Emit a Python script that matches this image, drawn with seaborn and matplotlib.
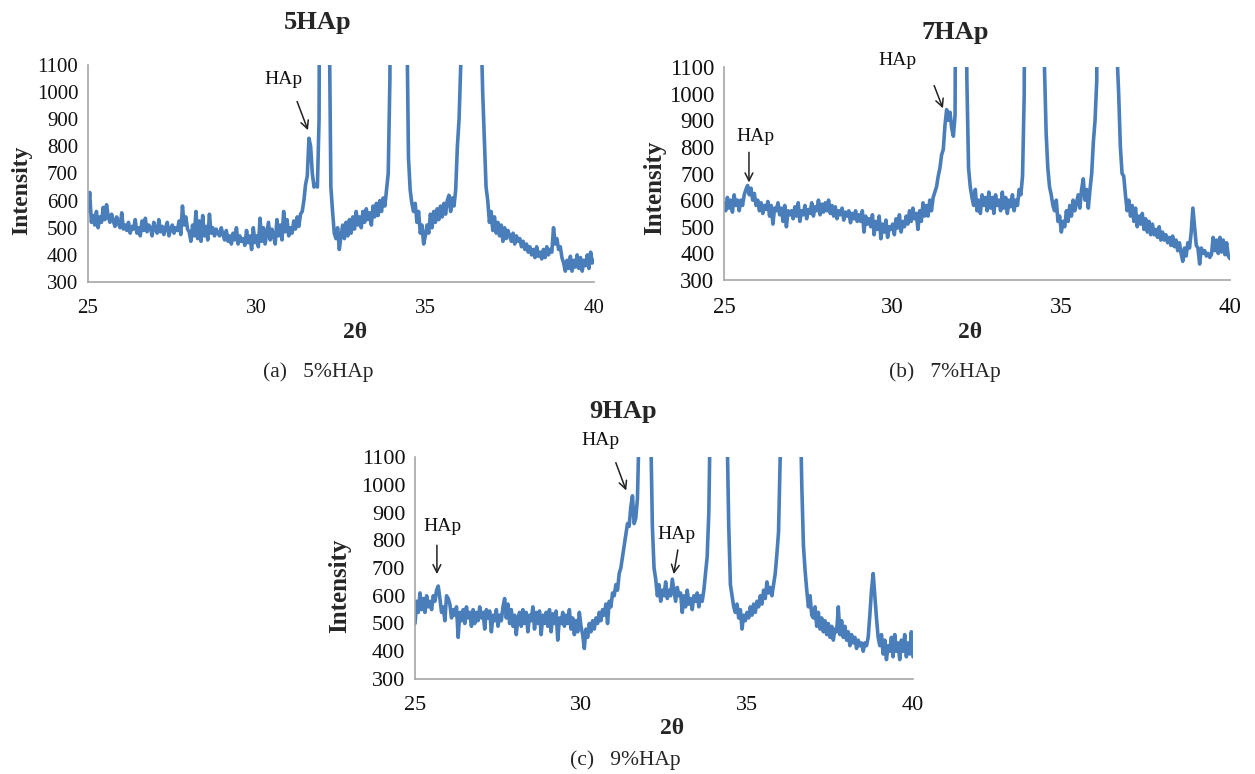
import numpy as np
import pandas as pd
import matplotlib
matplotlib.use("Agg")
import matplotlib.pyplot as plt
import seaborn as sns

# 2-theta sampling grid (degrees), 0.05 deg steps from 25 to 40
two_theta = np.round(np.linspace(25.0, 40.0, 301), 2)

# ---------------- 5HAp intensities ----------------
intensity_5hap = (
    [560, 630, 520, 545, 510, 560, 500, 540, 520, 575, 530, 585, 540, 520, 550, 525, 505, 540, 515, 500] +
    [555, 495, 510, 490, 520, 480, 505, 495, 530, 480, 500, 470, 525, 490, 535, 485, 510, 500, 470, 520] +
    [495, 480, 530, 485, 505, 475, 500, 520, 470, 495, 510, 480, 500, 490, 525, 475, 580, 510, 540, 495] +
    [485, 450, 510, 470, 560, 460, 525, 450, 545, 470, 505, 455, 550, 480, 500, 470, 495, 480, 470, 500] +
    [475, 455, 490, 450, 470, 440, 480, 455, 500, 440, 470, 450, 460, 435, 490, 445, 470, 420, 500, 445] +
    [470, 430, 535, 450, 500, 440, 480, 520, 455, 495, 470, 440, 530, 470, 510, 455, 560, 485, 530, 470] +
    [500, 480, 525, 495, 540, 505, 550, 560, 600, 660, 690, 830, 800, 700, 650, 660, 650, 900, 3000, 8000] +
    [9000, 6000, 3000, 1300, 650, 560, 480, 460, 500, 420, 470, 510, 460, 520, 470, 530, 480, 540, 495, 560] +
    [510, 540, 500, 560, 520, 570, 530, 555, 510, 580, 540, 590, 545, 600, 560, 610, 580, 640, 700, 1050] +
    [3000, 8000, 15000, 20000, 20000, 15000, 9000, 5000, 2500, 1300, 760, 640, 590, 560, 590, 520, 560, 480, 510, 440] +
    [470, 510, 480, 550, 500, 560, 520, 570, 530, 580, 540, 590, 550, 600, 620, 560, 610, 580, 640, 800] +
    [900, 1100, 2500, 6000, 10000, 15000, 16000, 12000, 8000, 5000, 3000, 2000, 1800, 1250, 1000, 820, 650, 600, 520, 560] +
    [490, 540, 480, 520, 470, 510, 450, 500, 460, 490, 470, 450, 480, 440, 470, 450, 460, 430, 450, 420] +
    [440, 410, 430, 400, 420, 390, 430, 395, 410, 385, 420, 390, 430, 400, 420, 410, 500, 440, 460, 420] +
    [430, 390, 370, 340, 380, 350, 395, 340, 380, 355, 400, 350, 390, 340, 380, 360, 400, 350, 410, 370] +
    [380]
)

# ---------------- 7HAp intensities ----------------
intensity_7hap = (
    [590, 560, 610, 570, 600, 555, 620, 580, 600, 560, 600, 580, 620, 640, 655, 620, 645, 600, 625, 580] +
    [600, 560, 590, 550, 580, 565, 595, 540, 580, 510, 570, 560, 590, 545, 570, 520, 580, 500, 560, 545] +
    [560, 530, 575, 540, 590, 520, 560, 545, 580, 530, 565, 550, 590, 540, 575, 560, 600, 545, 585, 555] +
    [590, 560, 600, 550, 580, 540, 575, 530, 560, 545, 570, 525, 555, 540, 560, 515, 550, 530, 560, 520] +
    [545, 520, 560, 480, 540, 510, 530, 500, 545, 470, 520, 490, 540, 455, 510, 480, 525, 460, 500, 490] +
    [510, 470, 530, 495, 545, 480, 520, 500, 540, 510, 560, 520, 570, 530, 550, 490, 560, 520, 590, 540] +
    [580, 540, 600, 560, 610, 630, 650, 690, 720, 770, 790, 880, 940, 900, 930, 870, 840, 920, 2500, 6000] +
    [9000, 7000, 4000, 1800, 1050, 720, 650, 610, 580, 640, 560, 600, 550, 620, 580, 610, 560, 630, 570, 610] +
    [550, 620, 580, 600, 560, 630, 570, 610, 550, 600, 575, 620, 560, 600, 580, 640, 620, 690, 1000, 3000] +
    [8000, 15000, 20000, 20000, 16000, 11000, 7000, 4000, 2500, 1600, 1100, 850, 720, 650, 620, 580, 560, 600, 520, 540] +
    [480, 520, 500, 560, 520, 580, 540, 600, 560, 590, 620, 570, 640, 680, 600, 640, 570, 640, 700, 820] +
    [900, 1050, 2500, 6000, 10000, 14000, 15000, 12000, 8000, 5000, 3000, 2000, 1600, 1150, 1000, 800, 700, 690, 620, 560] +
    [600, 540, 580, 520, 570, 500, 540, 510, 550, 490, 530, 480, 520, 470, 510, 470, 490, 460, 500, 450] +
    [480, 450, 470, 440, 460, 430, 465, 425, 450, 410, 440, 400, 370, 420, 390, 440, 420, 480, 570, 500] +
    [430, 420, 360, 420, 400, 410, 390, 400, 385, 395, 460, 410, 450, 400, 460, 405, 450, 395, 440, 390] +
    [380]
)

# ---------------- 9HAp intensities ----------------
intensity_9hap = (
    [500, 580, 540, 610, 550, 590, 540, 600, 560, 580, 550, 600, 580, 620, 635, 590, 540, 560, 510, 600] +
    [590, 570, 520, 550, 530, 560, 450, 540, 510, 550, 500, 560, 520, 540, 490, 550, 500, 540, 510, 560] +
    [520, 540, 480, 550, 520, 545, 470, 530, 510, 550, 490, 530, 510, 560, 590, 520, 570, 500, 550, 490] +
    [530, 460, 520, 540, 490, 550, 500, 540, 470, 530, 510, 560, 480, 540, 500, 545, 460, 530, 500, 540] +
    [490, 550, 470, 535, 500, 545, 440, 520, 500, 540, 490, 530, 500, 550, 480, 520, 460, 510, 470, 540] +
    [490, 460, 410, 480, 450, 500, 470, 510, 480, 520, 500, 540, 510, 550, 530, 570, 500, 580, 560, 610] +
    [600, 640, 620, 680, 700, 740, 780, 820, 860, 850, 920, 960, 860, 880, 950, 1200, 3000, 7000, 10000, 9000] +
    [6000, 3000, 1200, 850, 700, 660, 600, 640, 580, 620, 600, 650, 590, 620, 600, 660, 620, 580, 630, 600] +
    [610, 540, 600, 560, 620, 570, 590, 550, 600, 580, 610, 560, 600, 580, 620, 680, 740, 900, 1300, 4000] +
    [9000, 15000, 18000, 15000, 10000, 6000, 3000, 1800, 1200, 850, 640, 600, 560, 540, 570, 520, 550, 480, 530, 510] +
    [540, 520, 560, 530, 570, 540, 580, 560, 600, 570, 620, 590, 650, 610, 630, 600, 640, 680, 750, 830] +
    [1100, 2500, 6000, 10000, 14000, 15000, 12000, 8000, 5000, 3000, 2000, 1600, 1300, 1000, 780, 690, 620, 560, 600, 530] +
    [520, 560, 490, 540, 480, 520, 470, 510, 460, 500, 450, 490, 440, 480, 470, 560, 460, 510, 450, 490] +
    [440, 470, 420, 460, 430, 450, 410, 440, 420, 430, 400, 430, 420, 450, 530, 620, 680, 600, 520, 450] +
    [420, 460, 390, 440, 370, 420, 400, 450, 380, 460, 400, 430, 370, 440, 400, 460, 380, 430, 390, 470] +
    [380]
)

panel_titles = ["5HAp", "7HAp", "9HAp"]
panel_captions = ["(a)   5%HAp", "(b)   7%HAp", "(c)   9%HAp"]
y_ticks = [300, 400, 500, 600, 700, 800, 900, 1000, 1100]
x_ticks = [25, 30, 35, 40]

# annotations: (label text position, arrow tail, arrow head) in data units
annot_5hap = [((30.78, 1048), (31.17, 975), (31.55, 850))]
annot_7hap = [((25.92, 840), (25.74, 790), (25.74, 656)),
              ((30.13, 1125), (31.20, 1040), (31.52, 935))]
annot_9hap = [((25.84, 848), (25.66, 792), (25.66, 668)),
              ((30.60, 1161), (31.02, 1089), (31.39, 970)),
              ((32.89, 819), (32.93, 775), (32.78, 668))]

sns.set_style("white")
plt.rcParams["font.family"] = ["Liberation Serif", "DejaVu Serif"]

W, H = 1255, 774
fig = plt.figure(figsize=(W / 100, H / 100), dpi=100)


def px_rect(x0, y0, x1, y1):
    return [x0 / W, 1 - y1 / H, (x1 - x0) / W, (y1 - y0) / H]


def ftext(px, py, s, **kw):
    fig.text(px / W, 1 - py / H, s, ha="center", va="center", **kw)


LINE_COLOR = "#4A7EBB"
SPINE_COLOR = "#A6A6A6"

panels = [
    dict(rect=px_rect(88, 65, 594, 282), y=intensity_5hap, annot=annot_5hap,
         tick_fs=15, ylab_fs=17,
         title=(318, 22), ylab=(22, 190), xlab=(355, 333), cap=(318, 372)),
    dict(rect=px_rect(724, 67, 1230, 280), y=intensity_7hap, annot=annot_7hap,
         tick_fs=16.5, ylab_fs=18,
         title=(955, 32), ylab=(655, 188), xlab=(970, 333), cap=(945, 372)),
    dict(rect=px_rect(415, 457, 913, 679), y=intensity_9hap, annot=annot_9hap,
         tick_fs=16, ylab_fs=18,
         title=(623, 411), ylab=(340, 586), xlab=(672, 728), cap=(625, 760)),
]

for i, p in enumerate(panels):
    ax = fig.add_axes(p["rect"])
    df = pd.DataFrame({"two_theta": two_theta, "intensity": p["y"]})
    sns.lineplot(data=df, x="two_theta", y="intensity", ax=ax,
                 color=LINE_COLOR, linewidth=2.6, estimator=None)
    ax.set_xlim(25, 40)
    ax.set_ylim(300, 1100)
    ax.set_xticks(x_ticks)
    ax.set_yticks(y_ticks)
    ax.set_xlabel("")
    ax.set_ylabel("")
    for side in ["top", "right"]:
        ax.spines[side].set_visible(False)
    for side in ["left", "bottom"]:
        ax.spines[side].set_color(SPINE_COLOR)
        ax.spines[side].set_linewidth(1.2)
    ax.tick_params(axis="both", direction="out", length=5, width=1.0,
                   color=SPINE_COLOR, labelsize=p["tick_fs"], labelcolor="#111111")
    ax.tick_params(axis="x", pad=7)
    ax.tick_params(axis="y", pad=2)

    for (tx, ty), (ax0, ay0), (ax1, ay1) in p["annot"]:
        ax.annotate("", xy=(ax1, ay1), xytext=(ax0, ay0),
                    arrowprops=dict(arrowstyle="->", color="#222222", lw=1.1,
                                    mutation_scale=14),
                    annotation_clip=False)
        ax.text(tx, ty, "HAp", ha="center", va="center", fontsize=14,
                color="#111111", clip_on=False)

    ftext(*p["title"], panel_titles[i], fontsize=19, fontweight="bold")
    ftext(*p["ylab"], "Intensity", fontsize=p["ylab_fs"], fontweight="bold", rotation=90)
    ftext(*p["xlab"], "2θ", fontsize=17, fontweight="bold")
    ftext(*p["cap"], panel_captions[i], fontsize=15.5)

fig.savefig("out.png", dpi=100, facecolor="white")
